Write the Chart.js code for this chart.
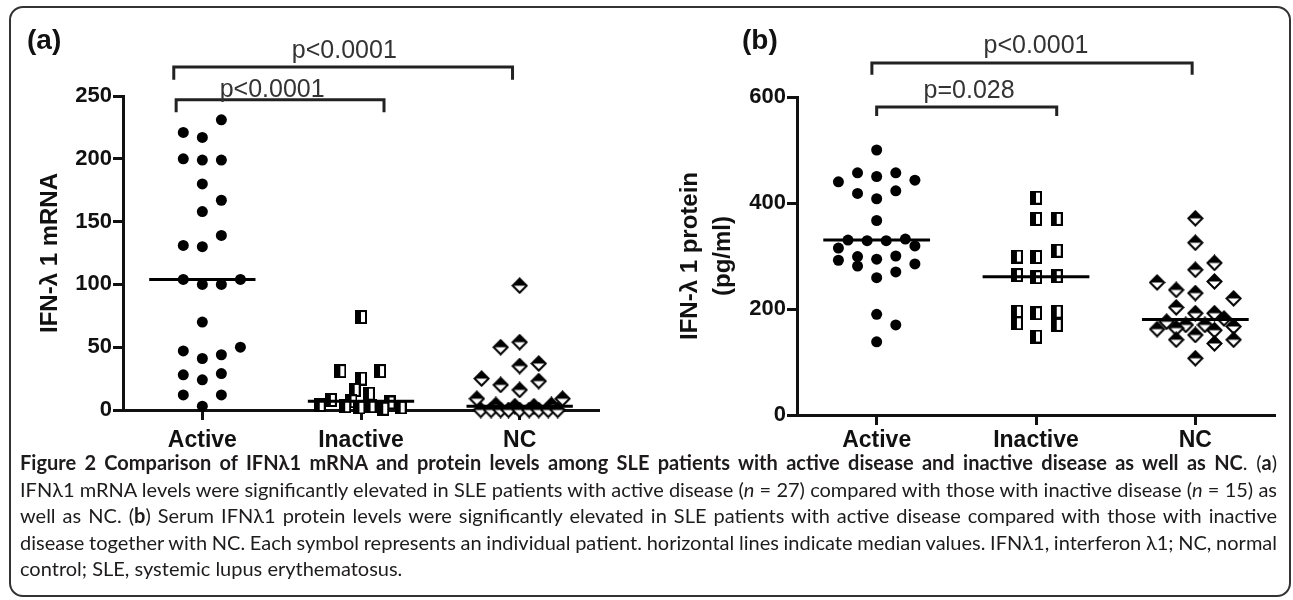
<!DOCTYPE html>
<html>
<head>
<meta charset="utf-8">
<script src="https://cdn.jsdelivr.net/npm/chart.js@4.4.0/dist/chart.umd.min.js"></script>
<style>
  html, body { margin: 0; padding: 0; background: #fff; }
  body { position: relative; width: 1293px; height: 600px; overflow: hidden; font-family: "Liberation Sans", Arial, sans-serif; }
  .frame { position: absolute; left: 9px; top: 6px; width: 1282px; height: 591px; box-sizing: border-box; border: 2px solid #333; border-radius: 14px; }
  #chartA { position: absolute; left: 0; top: 0; }
  #chartB { position: absolute; left: 640px; top: 0; }
  .tag { position: absolute; top: 24px; font: bold 28px/32px "Liberation Sans", Arial, sans-serif; color: #111; }
  .cap { position: absolute; left: 20px; top: 449px; width: 1257px; font-family: Lato, "Open Sans", sans-serif; font-size: 20px; line-height: 26.5px; color: #1d1b1c; }
  .cap div { white-space: nowrap; }
</style>
</head>
<body>
<div class="frame"></div>
<canvas id="chartA" width="640" height="455"></canvas>
<canvas id="chartB" width="653" height="460"></canvas>
<div class="tag" style="left:27px">(a)</div>
<div class="tag" style="left:742px">(b)</div>
<div class="cap">
  <div class="j"><span><b>Figure 2 Comparison of IFNλ1 mRNA and protein levels among SLE patients with active disease and inactive disease as well as NC</b>. (<b>a</b>)</span></div>
  <div class="j"><span>IFNλ1 mRNA levels were significantly elevated in SLE patients with active disease (<i>n</i> = 27) compared with those with inactive disease (<i>n</i> = 15) as</span></div>
  <div class="j"><span>well as NC. (<b>b</b>) Serum IFNλ1 protein levels were significantly elevated in SLE patients with active disease compared with those with inactive</span></div>
  <div class="j"><span>disease together with NC. Each symbol represents an individual patient. horizontal lines indicate median values. IFNλ1, interferon λ1; NC, normal</span></div>
  <div><span>control; SLE, systemic lupus erythematosus.</span></div>
</div>
<script>
const groups = ["Active", "Inactive", "NC"];

// (a) IFN-λ1 mRNA, one value per patient, dx = sideways spread inside the group
const mrnaActive = [231, 221, 217, 200, 199, 199, 180, 167, 158, 139, 131, 130, 104, 100, 100, 104, 70, 47, 41, 44, 50, 28, 24, 29, 12, 12, 3];
const mrnaActiveDx = [0.12, -0.12, 0, -0.12, 0, 0.12, 0, 0.12, 0, 0.12, -0.12, 0, -0.12, 0, 0.12, 0.24, 0, -0.12, 0, 0.12, 0.24, -0.12, 0, 0.12, -0.12, 0.12, 0];
const mrnaInactive = [74, 31, 31, 25, 16, 13, 8, 7, 6, 4, 3, 3, 2, 2, 1];
const mrnaInactiveDx = [0, -0.13, 0.12, 0, -0.04, 0.05, -0.19, -0.06, 0.18, -0.26, -0.1, 0.06, 0.25, -0.01, 0.14];
const mrnaNC = [99, 54, 50, 37, 35, 25, 23, 20, 16, 9, 9, 4, 3, 3, 4, 0, 0, 0, 0, 0, 0, 0, 0, 0];
const mrnaNCDx = [0, 0, -0.12, 0.12, 0, -0.24, 0.12, -0.12, 0, -0.27, 0.27, -0.15, -0.03, 0.09, 0.2, -0.245, -0.18, -0.12, -0.07, 0, 0.06, 0.12, 0.18, 0.24];
const mrnaMedians = [104, 7, 3];
const mrnaTicks = [0, 50, 100, 150, 200, 250];

// (b) IFN-λ1 protein (pg/ml)
const protActive = [500, 457, 450, 457, 440, 443, 418, 408, 423, 367, 330, 329, 329, 332, 315, 319, 292, 299, 281, 294, 300, 285, 259, 270, 190, 170, 138];
const protActiveDx = [0, -0.12, 0, 0.12, -0.24, 0.24, -0.12, 0, 0.12, 0, -0.18, -0.06, 0.06, 0.18, -0.24, 0.24, -0.24, -0.12, -0.12, 0, 0.12, 0.24, 0, 0.12, 0, 0.12, 0];
const protInactive = [410, 370, 370, 310, 299, 298, 264, 260, 262, 195, 173, 192, 195, 170, 148];
const protInactiveDx = [0, 0, 0.13, 0.13, -0.12, 0, -0.12, 0, 0.13, -0.12, -0.12, 0, 0.13, 0.13, 0];
const protNC = [371, 325, 287, 274, 250, 252, 236, 230, 220, 203, 192, 192, 182, 176, 170, 170, 162, 164, 160, 167, 142, 151, 135, 142, 107];
const protNCDx = [0, 0, 0.12, 0, -0.24, 0.12, -0.12, 0, 0.24, -0.12, 0, 0.12, 0.18, -0.18, -0.06, 0.06, -0.24, -0.12, 0.12, 0.24, -0.12, 0, 0.12, 0.24, 0];
const protMedians = [330, 261, 180];
const protTicks = [0, 200, 400, 600];

// significance bars (in axis units)
const mrnaBrackets = [
  { from: -0.18, to: 1.955, level: 273, drop: 10, text: "p<0.0001", at: 0.895, textLevel: 280 },
  { from: -0.165, to: 1.145, level: 247, drop: 10, text: "p<0.0001", at: 0.44, textLevel: 249 }
];
const protBrackets = [
  { from: -0.03, to: 1.98, level: 664, drop: 22, text: "p<0.0001", at: 1.0, textLevel: 683 },
  { from: 0, to: 1.13, level: 581, drop: 17, text: "p=0.028", at: 0.58, textLevel: 598 }
];

Chart.defaults.font.family = '"Liberation Sans", Arial, sans-serif';
Chart.defaults.color = "#111";

// marker pictures
function halfSquare(w, h) {
  const c = document.createElement("canvas");
  c.width = w; c.height = h;
  const g = c.getContext("2d");
  g.fillStyle = "#fff"; g.fillRect(0, 0, w, h);
  g.fillStyle = "#000"; g.fillRect(0, 0, w / 2, h);
  g.lineWidth = 2; g.strokeStyle = "#000"; g.strokeRect(1, 1, w - 2, h - 2);
  return c;
}
function halfDiamond(s) {
  const c = document.createElement("canvas");
  c.width = s; c.height = s;
  const g = c.getContext("2d");
  const m = s / 2, r = s / 2 - 1.5;
  g.beginPath(); g.moveTo(m, m - r); g.lineTo(m + r, m); g.lineTo(m, m + r); g.lineTo(m - r, m); g.closePath();
  g.fillStyle = "#fff"; g.fill();
  g.lineWidth = 2; g.strokeStyle = "#000"; g.stroke();
  g.beginPath(); g.moveTo(m, m - r); g.lineTo(m + r, m); g.lineTo(m - r, m); g.closePath();
  g.fillStyle = "#000"; g.fill();
  return c;
}
const squareMark = halfSquare(12, 14);
const diamondMark = halfDiamond(17);

const brackets = {
  id: "brackets",
  afterDraw(chart, args, opts) {
    const { ctx, scales: { x, y } } = chart;
    ctx.save();
    ctx.strokeStyle = "#222";
    ctx.lineWidth = 3;
    ctx.fillStyle = "#333";
    ctx.font = '25px "Liberation Sans", Arial, sans-serif';
    ctx.textAlign = "center";
    ctx.textBaseline = "alphabetic";
    opts.items.forEach((b) => {
      const x1 = x.getPixelForValue(b.from);
      const x2 = x.getPixelForValue(b.to);
      const yb = y.getPixelForValue(b.level);
      const yd = y.getPixelForValue(b.level - b.drop);
      ctx.beginPath();
      ctx.moveTo(x1, yd);
      ctx.lineTo(x1, yb);
      ctx.lineTo(x2, yb);
      ctx.lineTo(x2, yd);
      ctx.stroke();
      ctx.fillText(b.text, x.getPixelForValue(b.at), y.getPixelForValue(b.textLevel));
    });
    ctx.restore();
  }
};

function dots(values, dx, group, style) {
  return {
    type: "scatter",
    data: values.map((v, i) => ({ x: group + dx[i], y: v })),
    pointStyle: style,
    pointRadius: 5.5,
    backgroundColor: "#000",
    borderColor: "#000",
    borderWidth: 0,
    clip: false
  };
}

function median(m, group) {
  return {
    type: "line",
    data: [{ x: group - 0.335, y: m }, { x: group + 0.335, y: m }],
    borderColor: "#000",
    borderWidth: 3,
    pointRadius: 0,
    showLine: true,
    clip: false
  };
}

function panel(id, p) {
  const datasets = p.medians.map((m, i) => median(m, i));
  datasets.push(dots(p.active, p.activeDx, 0, "circle"));
  datasets.push(dots(p.inactive, p.inactiveDx, 1, squareMark));
  datasets.push(dots(p.nc, p.ncDx, 2, diamondMark));

  return new Chart(document.getElementById(id), {
    type: "scatter",
    data: { datasets },
    plugins: [brackets],
    options: {
      responsive: false,
      animation: false,
      events: [],
      layout: { padding: { top: p.top, right: p.right, left: 0, bottom: 0 } },
      plugins: {
        legend: { display: false },
        tooltip: { enabled: false },
        brackets: { items: p.brackets }
      },
      scales: {
        x: {
          type: "linear",
          min: -0.5,
          max: 2.5,
          afterBuildTicks: (s) => { s.ticks = groups.map((g, i) => ({ value: i })); },
          afterFit: (s) => { s.height = 45; },
          ticks: {
            callback: (v) => groups[v],
            autoSkip: false,
            maxRotation: 0,
            padding: p.xPad,
            color: "#111",
            font: { size: 23, weight: "bold" }
          },
          grid: { drawOnChartArea: false, drawTicks: true, tickLength: 10, tickWidth: 3, tickColor: "#111" },
          border: { color: "#111", width: 3 }
        },
        y: {
          min: p.ticks[0],
          max: p.ticks[p.ticks.length - 1],
          afterBuildTicks: (s) => { s.ticks = p.ticks.map((v) => ({ value: v })); },
          afterFit: (s) => { s.width = p.axisWidth; },
          ticks: { padding: 1, color: "#111", font: { size: 22, weight: "bold" } },
          grid: { drawOnChartArea: false, drawTicks: true, tickLength: 10, tickWidth: 3, tickColor: "#111" },
          border: { color: "#111", width: 3 },
          title: {
            display: true,
            text: p.title,
            color: "#111",
            font: { size: 24, weight: "bold", lineHeight: 1.375 },
            padding: { top: p.titlePad, bottom: 0 }
          }
        }
      }
    }
  });
}

panel("chartA", {
  active: mrnaActive, activeDx: mrnaActiveDx,
  inactive: mrnaInactive, inactiveDx: mrnaInactiveDx,
  nc: mrnaNC, ncDx: mrnaNCDx,
  medians: mrnaMedians, ticks: mrnaTicks, brackets: mrnaBrackets,
  title: "IFN-λ 1 mRNA",
  top: 96, right: 41, axisWidth: 123, titlePad: 34, xPad: 7
});

panel("chartB", {
  active: protActive, activeDx: protActiveDx,
  inactive: protInactive, inactiveDx: protInactiveDx,
  nc: protNC, ncDx: protNCDx,
  medians: protMedians, ticks: protTicks, brackets: protBrackets,
  title: ["IFN-λ 1 protein", "(pg/ml)"],
  top: 97, right: 18, axisWidth: 157, titlePad: 34, xPad: 2
});

// justify every caption line but the last to the full width
function justify() {
  document.querySelectorAll(".cap .j").forEach((el) => {
    el.style.wordSpacing = "0px";
    const span = el.querySelector("span");
    const gaps = (span.textContent.match(/ /g) || []).length;
    const extra = (1257 - span.getBoundingClientRect().width) / gaps;
    el.style.wordSpacing = extra + "px";
  });
}
justify();
if (document.fonts) document.fonts.ready.then(justify);
</script>
</body>
</html>
